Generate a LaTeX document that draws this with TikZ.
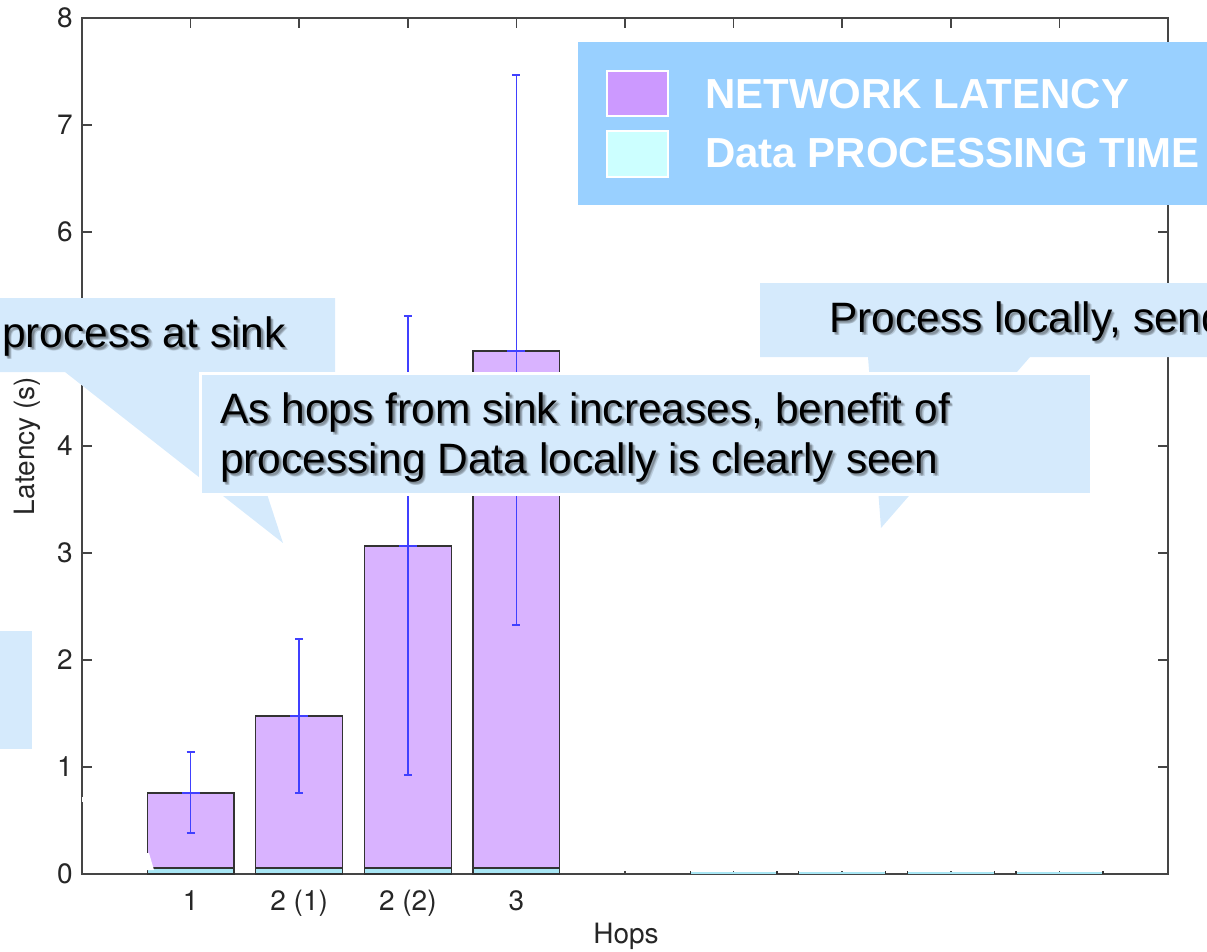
\documentclass[tikz,border=0pt]{standalone}
\usepackage{fontspec}
\setmainfont{Liberation Sans}
\newfontfamily\axisfont{TeX Gyre Heros}
\definecolor{axisgray}{HTML}{454545}
\definecolor{barpurple}{HTML}{D9B3FF}
\definecolor{barcyan}{HTML}{A8E6F4}
\definecolor{errblue}{HTML}{4040FF}
\definecolor{calloutblue}{HTML}{D5EAFC}
\definecolor{legendblue}{HTML}{99D0FF}
\definecolor{legpurple}{HTML}{CC99FF}
\definecolor{legcyan}{HTML}{CCFFFF}

\begin{document}
\begin{tikzpicture}[x=1pt,y=-1pt,
  axis/.style={draw=axisgray, line width=1.5pt},
  ticklabel/.style={font=\axisfont\fontsize{28}{30}\selectfont, text=black!85, inner sep=0pt},
  bar/.style={draw=black!80, line width=1.3pt},
  errbar/.style={draw=errblue, line width=1.7pt},
  callout/.style={fill=calloutblue},
  calltext/.style={font=\fontsize{42.5}{50}\selectfont, inner sep=0pt, anchor=base west},
  shadowtext/.style={calltext, text=black, opacity=0.13},
  legtext/.style={font=\bfseries\fontsize{42}{50}\selectfont, text=white, inner sep=0pt, anchor=base west},
  legswatch/.style={draw=white, line width=2pt}]
\useasboundingbox (0,0) rectangle (1207,951);
\clip (0,0) rectangle (1207,951);

% plot frame
\draw[axis] (82,18) rectangle (1168,874);

% data coordinates: x in bar slots, y in seconds
\begin{scope}[shift={(82,874)}, x=108.6pt, y=107pt]
  \foreach \v in {1,...,7} {
    \draw[axis] (0,\v) -- ++(10pt,0);
    \draw[axis] (10,\v) -- ++(-10pt,0);
  }
  \foreach \k in {1,...,9} {
    \draw[axis] (\k,8) -- ++(0,-10pt);
    \draw[axis] (\k,0) -- ++(0,3pt);
  }
  \foreach \v in {0,...,8}
    \node[ticklabel, anchor=east] (ytick\v) at ([xshift=-9pt]0,\v) {\v};
  \foreach \k/\lab in {1/1, 2/2 (1), 3/2 (2), 4/3}
    \node[ticklabel, anchor=base] (xtick\k) at ([yshift=-36pt]\k,0) {\lab};

  % stacked bars with error bars
  \foreach \k/\h/\lo/\hi in {1/0.757/0.383/1.140, 2/1.477/0.757/2.196,
                             3/3.065/0.925/5.215, 4/4.888/2.327/7.467} {
    \filldraw[bar, fill=barcyan] (\k-0.4,0) rectangle (\k+0.4,0.056);
    \filldraw[bar, fill=barpurple] (\k-0.4,0.056) rectangle (\k+0.4,\h);
    \draw[errbar] (\k,\lo) -- (\k,\hi);
    \draw[errbar] ([xshift=-4pt]\k,\lo) -- ([xshift=4pt]\k,\lo);
    \draw[errbar] ([xshift=-4pt]\k,\hi) -- ([xshift=4pt]\k,\hi);
    \draw[errbar] ([xshift=-9pt]\k,\h) -- ([xshift=9pt]\k,\h);
  }
  % empty slots
  \foreach \k in {6,...,9} {
    \fill[barcyan] (\k-0.4,0) rectangle (\k+0.4,0.02);
    \draw[bar] (\k-0.4,0) -- (\k-0.4,0.025);
    \draw[bar] (\k+0.4,0) -- (\k+0.4,0.025);
  }
\end{scope}

\node[ticklabel, rotate=90] (ylabel) at (27,446) {Latency (s)};
\node[ticklabel, anchor=base] (xlabel) at (626,943) {Hops};

% small white marks over the frame
\fill[white] (146,853) -- (149,853) -- (154,870) -- (146,870) -- cycle;
\fill[white] (81.5,797) rectangle (84,802);

% soft drop shadow behind callout text
\newcommand\softshadow[3]{%
  \foreach \dx/\dy in {1.5/1.5, 2.5/2.5, 3.5/3, 2/3.5}
    \node[shadowtext] at (#1+\dx,#2+\dy) {#3};}

% callouts
\fill[callout] (-10,298) -- (335,298) -- (335,372) -- (227,372) -- (283,543)
  -- (65,372) -- (-10,372) -- cycle;
\softshadow{2}{347}{process at sink}
\node[calltext] (sinktext) at (2,347) {process at sink};

\fill[callout] (760,283) -- (1220,283) -- (1220,357) -- (1030,357) -- (881,528)
  -- (868,357) -- (760,357) -- cycle;
\softshadow{829}{332}{Process locally, send}
\node[calltext] (localtext) at (829,332) {Process locally, send};

\filldraw[callout, draw=white, line width=3pt] (200,373) rectangle (1091,494);
\softshadow{220}{423}{As hops from sink increases, benefit of}
\node[calltext] (hopstexta) at (220,423) {As hops from sink increases, benefit of};
\softshadow{220}{473}{processing Data locally is clearly seen}
\node[calltext] (hopstextb) at (220,473) {processing Data locally is clearly seen};

\fill[callout] (-10,631) rectangle (32,749);

% legend
\fill[legendblue] (578,42) rectangle (1220,205);
\filldraw[legswatch, fill=legpurple] (607,71) rectangle (668,116);
\filldraw[legswatch, fill=legcyan] (607,131) rectangle (668,177);
\node[legtext] (legnet) at (705,108) {NETWORK LATENCY};
\node[legtext] (legproc) at (705,167) {Data PROCESSING TIME};
\end{tikzpicture}
\end{document}
